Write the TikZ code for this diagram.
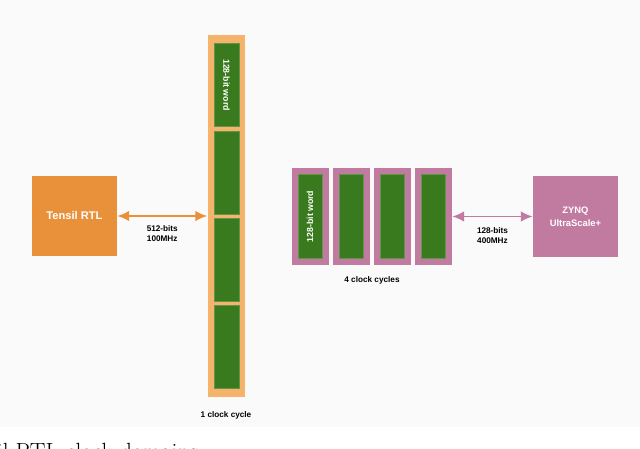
\documentclass[tikz,border=0pt]{standalone}
\usepackage{fontspec}
\setsansfont{Liberation Sans}
\usepackage{xcolor}
\usetikzlibrary{arrows.meta, positioning, calc}

\definecolor{tensilorange}{HTML}{E8913A}
\definecolor{bufferorange}{HTML}{F5B36B}
\definecolor{wordgreen}{HTML}{3A7A1E}
\definecolor{zynqpink}{HTML}{C27BA0}
\definecolor{backgray}{HTML}{FAFAFA}

\tikzset{
    block/.style={rectangle, inner sep=0pt, font=\sffamily\bfseries\fontsize{8}{10}\selectfont, text=white, align=center},
    word/.style={rectangle, inner sep=0pt, fill=wordgreen, draw=wordgreen!80!white, minimum width=0.75cm, minimum height=2.49cm},
    wordtext/.style={font=\sffamily\bfseries\fontsize{7.5}{9}\selectfont, text=white},
    lbl/.style={font=\sffamily\bfseries\fontsize{7}{8.5}\selectfont, align=center},
    biarrow/.style={{Latex[length=3.6mm,width=3.2mm]}-{Latex[length=3.6mm,width=3.2mm]}, line width=1.5pt}
}

\begin{document}
\begin{tikzpicture}[x=0.03cm, y=-0.03cm]
    % 0. Nền và khung
    \useasboundingbox (0,0) rectangle (640,449);
    \fill[backgray] (0,0) rectangle (640,427);

    % 1. Khối Tensil RTL
    \node[block, fill=tensilorange, minimum width=2.55cm, minimum height=2.4cm,
          font=\sffamily\bfseries\fontsize{9.5}{11}\selectfont] (tensil) at (74.5,216) {Tensil RTL};

    % 2. Bộ đệm 512-bit (1 chu kỳ)
    \node[block, fill=bufferorange, minimum width=1.11cm, minimum height=10.86cm] (col) at (226,216) {};
    \foreach \i in {0,...,3} {
        \node[word] (w\i) at (226.5, {85+87.3*\i}) {};
    }
    \node[wordtext, rotate=-90] at (w0) {128-bit word};
    \node[lbl, below=0.3cm of col] (onecycle) {1 clock cycle};

    % 3. Bốn khối 128-bit (4 chu kỳ)
    \foreach \i/\xx in {0/310, 1/351.5, 2/392.5, 3/433.5} {
        \node[block, fill=zynqpink, minimum width=1.11cm, minimum height=2.91cm] (p\i) at (\xx,216.5) {};
        \node[word, minimum width=0.72cm, minimum height=2.52cm] (g\i) at (p\i) {};
    }
    \node[wordtext, rotate=90] at (g0) {128-bit word};
    \node[lbl] (fourcycle) at (372,280) {4 clock cycles};

    % 4. Khối ZYNQ
    \node[block, fill=zynqpink, minimum width=2.55cm, minimum height=2.43cm] (zynq) at (575.5,216.5) {ZYNQ\\[1pt] UltraScale+};

    % 5. Mũi tên hai chiều
    \draw[biarrow, tensilorange] (tensil.east) -- (col.west)
        node[midway, below=0.15cm, lbl, text=black] {512-bits\\100MHz};
    \draw[biarrow, zynqpink] (p3.east) -- (zynq.west)
        node[midway, below=0.2cm, lbl, text=black] {128-bits\\400MHz};

    % 6. Chú thích (bị cắt)
    \node[anchor=base west, inner sep=0pt, font=\fontsize{20}{24}\selectfont] (caption) at (-47,459) {Tensil RTL clock domains};
\end{tikzpicture}
\end{document}
